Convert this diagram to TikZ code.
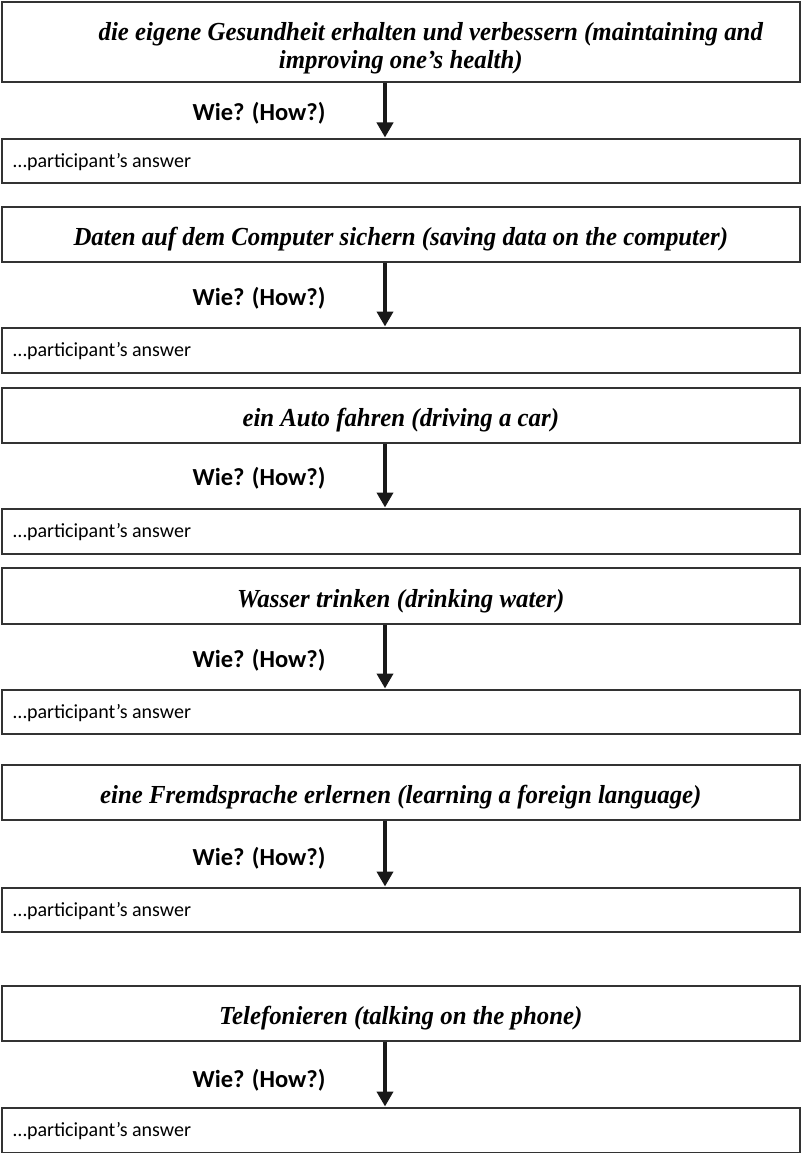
\documentclass[tikz,border=0pt]{standalone}
\usepackage{fontspec}
\setmainfont{Liberation Serif}
\newfontfamily\titlefont[FakeStretch=0.955]{Liberation Serif}
\newfontfamily\calibri{Carlito}
\usetikzlibrary{arrows.meta}
\tikzset{
  boxline/.style={draw=black!80, line width=1.6pt},
  titlebox/.style={boxline, anchor=north west, minimum width=798pt, inner sep=0pt},
  titletext/.style={inner sep=0pt, yshift=-5pt,
     font=\titlefont\fontsize{26}{28}\selectfont\bfseries\itshape, align=center},
  ansbox/.style={boxline, anchor=north west, minimum width=798pt, inner sep=0pt},
  anstext/.style={anchor=west, inner sep=0pt, yshift=-1pt, font=\calibri\fontsize{20}{22}\selectfont},
  howtext/.style={inner sep=0pt, font=\calibri\bfseries\fontsize{24.5}{26}\selectfont},
  flow/.style={black!90, line width=4.5pt, -{Triangle[width=16pt,length=15pt]}, shorten >=0.5pt}
}
\begin{document}
\begin{tikzpicture}[x=1pt,y=-1pt]
\useasboundingbox (0,0) rectangle (800,1153);
% boxes
\node[titlebox, minimum height=80pt] (t1) at (1,1) {};
\node[ansbox, minimum height=44pt] (a1) at (1,138) {};
\node[titlebox, minimum height=55pt] (t2) at (1,206) {};
\node[ansbox, minimum height=45pt] (a2) at (1,327) {};
\node[titlebox, minimum height=55pt] (t3) at (1,387) {};
\node[ansbox, minimum height=45pt] (a3) at (1,508) {};
\node[titlebox, minimum height=56pt] (t4) at (1,567) {};
\node[ansbox, minimum height=44pt] (a4) at (1,689) {};
\node[titlebox, minimum height=55pt] (t5) at (1,764) {};
\node[ansbox, minimum height=44pt] (a5) at (1,887) {};
\node[titlebox, minimum height=55pt] (t6) at (1,985) {};
\node[ansbox, minimum height=45pt] (a6) at (1,1107) {};
% title texts
\node[titletext, yshift=-1pt] (tt1) at (t1.center)
  {\hspace*{60pt}die eigene Gesundheit erhalten und verbessern (maintaining and\\improving one’s health)};
\node[titletext] (tt2) at (t2.center) {Daten auf dem Computer sichern (saving data on the computer)};
\node[titletext] (tt3) at (t3.center) {ein Auto fahren (driving a car)};
\node[titletext] (tt4) at (t4.center) {Wasser trinken (drinking water)};
\node[titletext] (tt5) at (t5.center) {eine Fremdsprache erlernen (learning a foreign language)};
\node[titletext] (tt6) at (t6.center) {Telefonieren (talking on the phone)};
% answer texts
\foreach \i in {1,...,6}{
  \node[anstext] (at\i) at ([xshift=12pt]a\i.west) {…participant’s answer};
}
% arrows and labels
\foreach \i/\y in {1/113,2/298,3/478,4/660,5/858,6/1080}{
  \draw[flow] (t\i.south -| 385,0) -- (a\i.north -| 385,0);
  \node[howtext] (h\i) at (259,\y) {Wie? (How?)};
}
\end{tikzpicture}
\end{document}
